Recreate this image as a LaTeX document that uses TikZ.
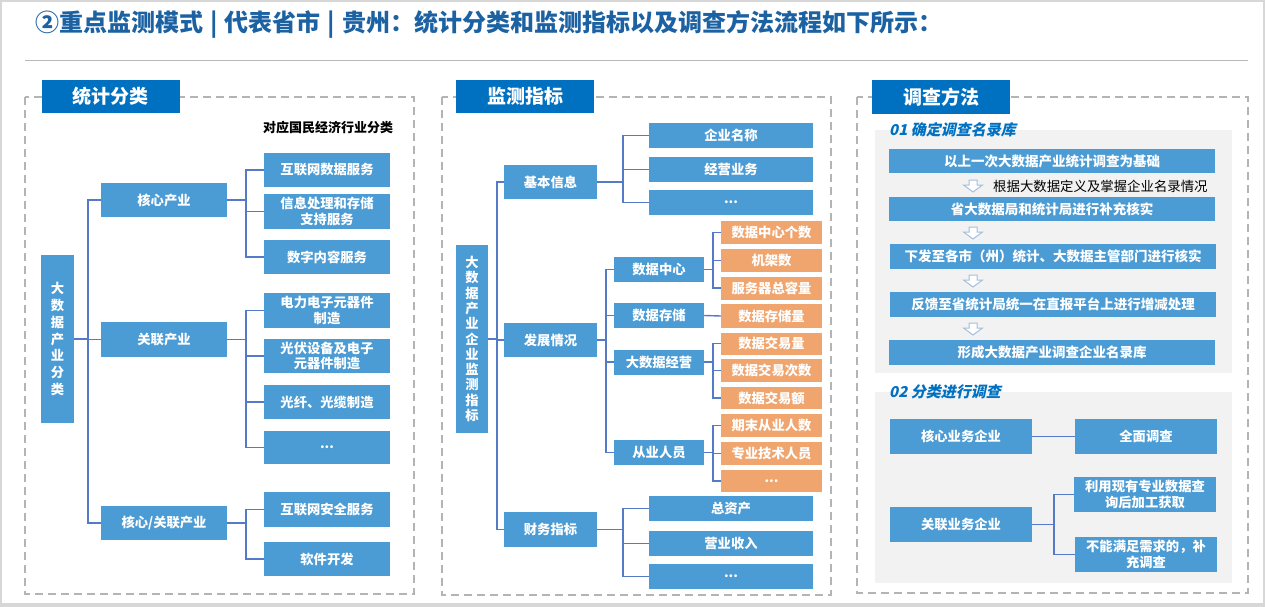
\documentclass[tikz,border=0pt]{standalone}
\usepackage{fontspec}
\setmainfont{Noto Sans CJK SC}
\newfontfamily\slfont{Noto Sans CJK SC}[FakeSlant=0.22]
\definecolor{boxblue}{RGB}{75,155,212}
\definecolor{hdrblue}{RGB}{0,112,192}
\definecolor{orng}{RGB}{241,165,110}
\definecolor{lnblue}{RGB}{84,122,200}
\definecolor{dashgray}{RGB}{180,180,180}
\definecolor{panelgray}{RGB}{242,242,242}
\definecolor{titleblue}{RGB}{28,98,162}
\definecolor{arrowc}{RGB}{165,190,222}
\definecolor{framegray}{RGB}{215,215,215}
\begin{document}
\begin{tikzpicture}[x=1pt,y=-1pt,
  bx/.style={fill=boxblue,text=white,font=\fontsize{13.3}{15.5}\selectfont\bfseries,inner sep=0pt,align=center},
  ob/.style={bx,fill=orng},
  hd/.style={fill=hdrblue,text=white,font=\fontsize{19}{22}\selectfont\bfseries,inner sep=0pt,minimum height=33,minimum width=138},
  cn/.style={draw=lnblue,line width=1.4},
  dsh/.style={draw=dashgray,line width=2,dash pattern=on 8pt off 5pt},
  harrow/.style={draw=arrowc,line width=1,fill=white},
  sub/.style={font=\slfont\fontsize{15}{18}\selectfont\bfseries,text=hdrblue,anchor=west,inner sep=0pt}]
\useasboundingbox (0,0) rectangle (1265,607);
% frame
\fill[framegray] (0,603) rectangle (1265,607);
\draw[framegray,line width=2] (1,1) rectangle (1264,604);
% title
\node[anchor=west,font=\fontsize{24}{28}\selectfont\bfseries,text=titleblue,inner sep=0pt] (ttl) at (35,24) {②重点监测模式\hspace{7pt}|\hspace{7pt}代表省市\hspace{7pt}|\hspace{7pt}贵州：统计分类和监测指标以及调查方法流程如下所示：};
\draw[gray!55,line width=1] (25,60.5) -- (1248,60.5);

% ================= left panel =================
\draw[dsh] (25,97) rectangle (414,594);
\node[hd] (h1) at (110.5,96.5) {统计分类};
\node[font=\fontsize{13}{15}\selectfont\bfseries,inner sep=0pt] (note1) at (328,128) {对应国民经济行业分类};
\node[bx,minimum width=33,minimum height=168,font=\fontsize{13.3}{16.7}\selectfont\bfseries] (r1) at (57.5,339) {大\\数\\据\\产\\业\\分\\类};
\node[bx,minimum width=126,minimum height=34] (k1) at (164,200) {核心产业};
\node[bx,minimum width=126,minimum height=35] (k2) at (164,339.5) {关联产业};
\node[bx,minimum width=126,minimum height=34] (k3) at (164,523) {核心/关联产业};
\node[bx,minimum width=126,minimum height=34] (c1) at (327,170) {互联网数据服务};
\node[bx,minimum width=126,minimum height=35] (c2) at (327,211.5) {信息处理和存储\\支持服务};
\node[bx,minimum width=126,minimum height=34] (c3) at (327,257) {数字内容服务};
\node[bx,minimum width=126,minimum height=35] (c4) at (327,310.5) {电力电子元器件\\制造};
\node[bx,minimum width=126,minimum height=34] (c5) at (327,356) {光伏设备及电子\\元器件制造};
\node[bx,minimum width=126,minimum height=34] (c6) at (327,402) {光纤、光缆制造};
\node[bx,minimum width=126,minimum height=33] (c7) at (327,447.5) {...};
\node[bx,minimum width=126,minimum height=35] (c8) at (327,509.5) {互联网安全服务};
\node[bx,minimum width=126,minimum height=34] (c9) at (327,559) {软件开发};
\coordinate (bA) at (88,0);
\coordinate (bB) at (246,0);
\foreach \k in {k1,k2,k3} \draw[cn] (r1.east) -- (r1.east -| bA) |- (\k.west);
\foreach \c in {c1,c2,c3} \draw[cn] (k1.east) -- (k1.east -| bB) |- (\c.west);
\foreach \c in {c4,c5,c6,c7} \draw[cn] (k2.east) -- (k2.east -| bB) |- (\c.west);
\foreach \c in {c8,c9} \draw[cn] (k3.east) -- (k3.east -| bB) |- (\c.west);

% ================= middle panel =================
\draw[dsh] (442,97) rectangle (831,595);
\node[hd] (h2) at (525,96.5) {监测指标};
\node[bx,minimum width=32,minimum height=188,font=\fontsize{13.3}{15.3}\selectfont\bfseries] (r2) at (472,339) {大\\数\\据\\产\\业\\企\\业\\监\\测\\指\\标};
\node[bx,minimum width=93,minimum height=34] (m1) at (550.5,182) {基本信息};
\node[bx,minimum width=93,minimum height=34] (m2) at (550.5,340) {发展情况};
\node[bx,minimum width=93,minimum height=35] (m3) at (550.5,529.5) {财务指标};
\node[bx,minimum width=164,minimum height=25] (b1) at (731,135.5) {企业名称};
\node[bx,minimum width=164,minimum height=25] (b2) at (731,169.5) {经营业务};
\node[bx,minimum width=164,minimum height=25] (b3) at (731,202.5) {...};
\node[bx,minimum width=90,minimum height=25] (d1) at (659,269.5) {数据中心};
\node[bx,minimum width=90,minimum height=25] (d2) at (659,315.5) {数据存储};
\node[bx,minimum width=90,minimum height=25] (d3) at (659,362) {大数据经营};
\node[bx,minimum width=90,minimum height=25] (d4) at (659,452.5) {从业人员};
\node[ob,minimum width=101,minimum height=23] (o1) at (771.5,232.5) {数据中心个数};
\node[ob,minimum width=101,minimum height=23] (o2) at (771.5,260.5) {机架数};
\node[ob,minimum width=101,minimum height=23] (o3) at (771.5,288) {服务器总容量};
\node[ob,minimum width=101,minimum height=24] (o4) at (771.5,316) {数据存储量};
\node[ob,minimum width=101,minimum height=22] (o5) at (771.5,343.5) {数据交易量};
\node[ob,minimum width=101,minimum height=23] (o6) at (771.5,370.5) {数据交易次数};
\node[ob,minimum width=101,minimum height=22] (o7) at (771.5,398) {数据交易额};
\node[ob,minimum width=101,minimum height=23] (o8) at (771.5,425.5) {期末从业人数};
\node[ob,minimum width=101,minimum height=23] (o9) at (771.5,453.5) {专业技术人员};
\node[ob,minimum width=101,minimum height=22] (o10) at (771.5,481) {...};
\node[bx,minimum width=164,minimum height=25] (f1) at (731,508.5) {总资产};
\node[bx,minimum width=164,minimum height=25] (f2) at (731,543.5) {营业收入};
\node[bx,minimum width=164,minimum height=25] (f3) at (731,576.5) {...};
\coordinate (bC) at (497,0);
\coordinate (bD) at (623,0);
\coordinate (bE) at (606,0);
\coordinate (bF) at (713,0);
\foreach \k in {m1,m2,m3} \draw[cn] (r2.east) -- (r2.east -| bC) |- (\k.west);
\foreach \c in {b1,b2,b3} \draw[cn] (m1.east) -- (m1.east -| bD) |- (\c.west);
\foreach \c in {d1,d2,d3,d4} \draw[cn] (m2.east) -- (m2.east -| bE) |- (\c.west);
\foreach \c in {f1,f2,f3} \draw[cn] (m3.east) -- (m3.east -| bD) |- (\c.west);
\foreach \c in {o1,o2,o3} \draw[cn] (d1.east) -- (d1.east -| bF) |- (\c.west);
\draw[cn] (d2.east) -- (o4.west);
\foreach \c in {o5,o6,o7} \draw[cn] (d3.east) -- (d3.east -| bF) |- (\c.west);
\foreach \c in {o8,o9,o10} \draw[cn] (d4.east) -- (d4.east -| bF) |- (\c.west);

% ================= right panel =================
\draw[dsh] (857,97) rectangle (1248,593);
\fill[panelgray] (875,130) rectangle (1232,373);
\fill[panelgray] (875,392) rectangle (1232,583);
\node[hd,minimum height=34] (h3) at (941,97) {调查方法};
\node[sub] (st1) at (889,130) {01 确定调查名录库};
\node[sub] (st2) at (889,392) {02 分类进行调查};
\node[bx,minimum width=326,minimum height=24,font=\fontsize{13.5}{16}\selectfont\bfseries] (s1) at (1052,161) {以上一次大数据产业统计调查为基础};
\node[bx,minimum width=326,minimum height=24,font=\fontsize{13.5}{16}\selectfont\bfseries] (s2) at (1052,209) {省大数据局和统计局进行补充核实};
\node[bx,minimum width=326,minimum height=25,font=\fontsize{13.5}{16}\selectfont\bfseries] (s3) at (1053,256.5) {下发至各市（州）统计、大数据主管部门进行核实};
\node[bx,minimum width=326,minimum height=25,font=\fontsize{13.5}{16}\selectfont\bfseries] (s4) at (1053,304.5) {反馈至省统计局统一在直报平台上进行增减处理};
\node[bx,minimum width=326,minimum height=25,font=\fontsize{13.5}{16}\selectfont\bfseries] (s5) at (1052,352.5) {形成大数据产业调查企业名录库};
\node[anchor=west,inner sep=0pt,font=\fontsize{13.4}{16}\selectfont] (note2) at (993,186) {根据大数据定义及掌握企业名录情况};
\foreach \yy in {180,227,275,323}
  \draw[harrow,shift={(973,\yy)}] (-4,0) -- (4,0) -- (4,5) -- (9.5,5) -- (0,12) -- (-9.5,5) -- (-4,5) -- cycle;
\node[bx,minimum width=142,minimum height=35] (t1) at (961,436.5) {核心业务企业};
\node[bx,minimum width=142,minimum height=35] (t2) at (1146,436.5) {全面调查};
\node[bx,minimum width=142,minimum height=35] (t3) at (961,524.5) {关联业务企业};
\node[bx,minimum width=142,minimum height=35] (t4) at (1145,494.5) {利用现有专业数据查\\询后加工获取};
\node[bx,minimum width=142,minimum height=35] (t5) at (1146,554.5) {不能满足需求的，补\\充调查};
\coordinate (bG) at (1054,0);
\draw[cn] (t1.east) -- (t2.west);
\foreach \c in {t4,t5} \draw[cn] (t3.east) -- (t3.east -| bG) |- (\c.west);
\end{tikzpicture}
\end{document}
